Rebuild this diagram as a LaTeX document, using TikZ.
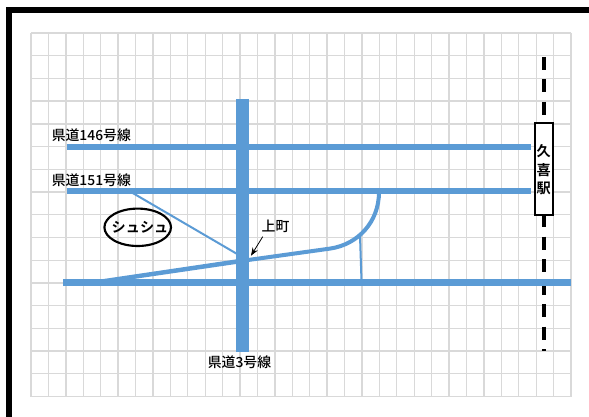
\documentclass[tikz,border=0pt]{standalone}
\usepackage{fontspec}
\setmainfont{Noto Sans CJK JP Medium}[BoldFont={Noto Sans CJK JP Bold}]
\usetikzlibrary{arrows.meta}
\definecolor{roadblue}{HTML}{5B9BD5}
\definecolor{gridgray}{HTML}{D9D9D9}
\tikzset{
  x=0.75pt,y=-0.75pt,
  gridline/.style={gridgray,line width=1pt},
  road/.style={roadblue,line width=4.7pt},
  lane/.style={roadblue,line width=3pt},
  thinroad/.style={roadblue,line width=1.5pt},
  label/.style={inner sep=0pt,font=\fontsize{10.4pt}{12pt}\selectfont,text=black},
  boldlabel/.style={inner sep=0pt,font=\fontsize{10.6pt}{12pt}\selectfont\bfseries,text=black},
  rail/.style={black,line width=2.3pt,dash pattern=on 9.75pt off 7.1pt},
}
\begin{document}
\begin{tikzpicture}
\useasboundingbox (0,0) rectangle (589,417);
\fill[white] (0,0) rectangle (589,417);
% frame
\fill[black] (6,7) rectangle (589,13);
\fill[black] (6,7) rectangle (12,417);
% grid
\foreach \i in {0,...,31} \draw[gridline] ({31+\i*17.42},33) -- ({31+\i*17.42},396.5);
\foreach \j in {0,...,16} \draw[gridline] (31,{33+\j*22.72}) -- (571,{33+\j*22.72});
% rail
\coordinate (railtop) at (544,57);
\coordinate (railend) at (544,351);
\draw[rail] (railtop) -- (railend);
% roads
\coordinate (r146w) at (66.7,147);
\coordinate (r146e) at (531,147);
\coordinate (r151w) at (66.7,190.7);
\coordinate (r151e) at (531,190.7);
\coordinate (r3n) at (242.5,99);
\coordinate (r3s) at (242.5,351.7);
\coordinate (lowW) at (63,282.5);
\coordinate (lowE) at (570.5,282.5);
\coordinate (slipN) at (379,192);
\coordinate (diagA) at (131,192);
\coordinate (diagB) at (238,254.5);
\coordinate (spurA) at (360,236);
\coordinate (spurB) at (361.5,281);
\draw[thinroad] (diagA) -- (diagB);
\draw[thinroad] (spurA) -- (spurB);
\fill[roadblue] (90,281) -- (236,259.4) -- (236,264) -- (120,281) -- cycle;
\draw[lane] (236,261.7) -- (330,248.6) .. controls (358,244.5) and (379,222) .. (slipN);
\draw[road] (r146w) -- (r146e);
\draw[road] (r151w) -- (r151e);
\draw[road] (lowW) -- (lowE);
\draw[roadblue,line width=9.6pt] (r3n) -- (r3s);
% station
\node[draw=black,line width=1.5pt,fill=white,minimum width=17.5*0.75pt,minimum height=91.5*0.75pt,inner sep=0pt] (station) at (543.8,169.2) {};
\node[boldlabel] (s1) at (543.8,151) {久};
\node[boldlabel] (s2) at (543.8,170) {喜};
\node[boldlabel] (s3) at (543.8,188.5) {駅};
% labels
\node[label,anchor=west] (l146) at (51.5,135) {県道146号線};
\node[label,anchor=west] (l151) at (51.5,180) {県道151号線};
\node[label] (l3) at (239.5,362.5) {県道3号線};
\node[label] (kami) at (275.5,226) {上町};
\draw[black,line width=0.6pt,-{Stealth[length=6pt,width=4.5pt]}] (262.7,236.7) -- (251,255.7);
% shop
\draw[black,line width=1.6pt] (137.7,227.3) ellipse [x radius=33.3,y radius=18.7];
\node[boldlabel] (shop) at (140,227) {シュシュ};
\end{tikzpicture}
\end{document}
